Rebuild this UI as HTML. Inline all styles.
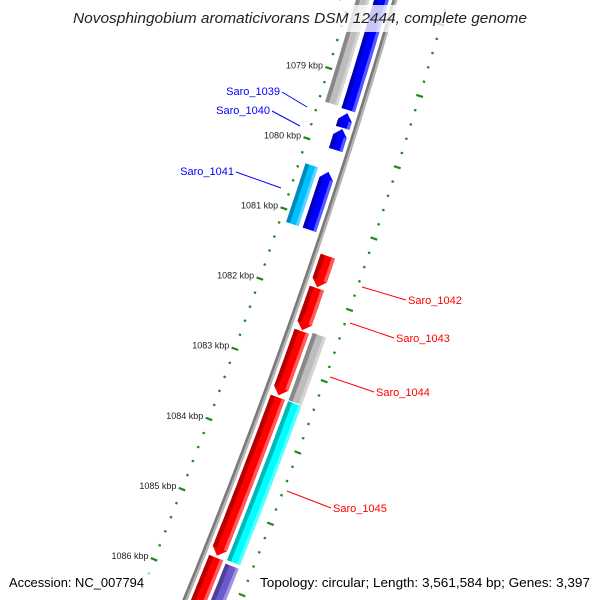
<!DOCTYPE html>
<html><head><meta charset="utf-8"><style>
html,body{margin:0;padding:0;background:#fff;width:600px;height:600px;overflow:hidden}
svg{display:block;overflow:hidden}
text{font-family:"Liberation Sans","DejaVu Sans",sans-serif}
</style></head><body>
<svg id="map" width="600" height="600" viewBox="0 0 600 600" xmlns="http://www.w3.org/2000/svg">
<g id="rulers"></g>
<g id="backbone"></g>
<g id="features"></g>
<g id="labels"></g>
<rect x="68" y="5" width="464" height="27" fill="#fff" fill-opacity="0.78"/>
<text x="300" y="23" text-anchor="middle" font-size="15" font-style="italic" fill="#222" textLength="454" lengthAdjust="spacingAndGlyphs">Novosphingobium aromaticivorans DSM 12444, complete genome</text>
<rect x="4" y="572" width="145" height="20" fill="#fff" fill-opacity="0.78"/>
<text x="9" y="587" font-size="13" fill="#000" textLength="135" lengthAdjust="spacingAndGlyphs">Accession: NC_007794</text>
<rect x="256" y="572" width="340" height="20" fill="#fff" fill-opacity="0.78"/>
<text x="590" y="587" font-size="13" fill="#000" text-anchor="end" textLength="330" lengthAdjust="spacingAndGlyphs">Topology: circular; Length: 3,561,584 bp; Genes: 3,397</text>
</svg>
<script>
// ---- data ----
const featureNames  = ["gray-top","Saro_1039","Saro_1040a","Saro_1040b","Saro_1041-outer","Saro_1041","Saro_1042","Saro_1043","Saro_1044","gray-right","Saro_1045","cyan-right","red-bottom","purple-bottom"];
const featureStarts = [1077500,1077500,1079509,1079735,1080329,1080343,1081418,1081870,1082478,1082450,1083411,1083411,1085674,1085700];
const featureEnds   = [1079452,1079467,1079721,1080032,1081163,1081163,1081856,1082464,1083383,1083397,1085646,1085650,1087500,1087500];
const featureTracks = [-2,-1,-1,-1,-2,-1,1,1,1,2,1,2,1,2];
const featureArrows = [0,0,-1,-1,0,-1,1,1,1,0,1,0,0,0];
const featureColors = ["#bdbdbd","#0000ff","#0000ff","#0000ff","#00bfff","#0000ff","#ff0000","#ff0000","#ff0000","#bdbdbd","#ff0000","#00ffff","#ff0000","#6a5acd"];
const tickStart = 1077800, tickEnd = 1087600, minorStep = 200, majorStep = 1000;
const labelTexts = ["Saro_1039","Saro_1040","Saro_1041","Saro_1042","Saro_1043","Saro_1044","Saro_1045"];

// ---- geometry ----
const NS="http://www.w3.org/2000/svg";
function yScale(bp){return 81+(bp-1079000)*0.0707;}
function bx(y){return 395-0.29*y-0.0001*y*y;}
function bd(y){return -0.29-0.0002*y;}
function pt(y,d){const s=bd(y),n=Math.sqrt(1+s*s);return [bx(y)+d/n, y-d*s/n];}
function mk(tag,attrs,parent){const e=document.createElementNS(NS,tag);for(const k in attrs)e.setAttribute(k,attrs[k]);parent.appendChild(e);return e;}
const trackOffset={"-2":-31,"-1":-13,"1":13,"2":31};
const trackWidth={"-2":13,"-1":14,"1":15,"2":14};

// backbone
const bb=document.getElementById('backbone');
let p1=[],p2=[];
for(let y=-10;y<=620;y+=5){p1.push(pt(y,0).map(v=>v.toFixed(1)).join(','));p2.push(pt(y,-1.2).map(v=>v.toFixed(1)).join(','));}
let e=mk('polyline',{points:p1.join(' '),fill:'none',stroke:'#b4b4b4','stroke-width':5},bb);


e=mk('polyline',{points:p2.join(' '),fill:'none',stroke:'#7a7a7a','stroke-width':2.5},bb);



// rulers
const rg=document.getElementById('rulers');
[-44,51].forEach(function(d,side){
  for(let bp=tickStart;bp<=tickEnd;bp+=minorStep){
    const y=yScale(bp);const major=(bp%majorStep===0);
    const a=pt(y,d-(major?3.5:1.2)),b=pt(y,d+(major?3.5:1.2));
    const t=mk('line',{x1:a[0],y1:a[1],x2:b[0],y2:b[1],stroke:'#1a8a1a','stroke-width':2.2},rg);
    
    
    if(major&&side===0){
      const c=pt(y,d-6);
      const l=mk('text',{x:c[0].toFixed(1),y:(c[1]+2).toFixed(1),'font-size':9,fill:'#222','text-anchor':'end'},rg);
      l.textContent=(bp/1000)+' kbp';
      
      
    }
  }
});

// features
const fg=document.getElementById('features');
function shade(c,f){const r=parseInt(c.substr(1,2),16),g=parseInt(c.substr(3,2),16),b=parseInt(c.substr(5,2),16);
  const m=v=>Math.max(0,Math.min(255,Math.round(f<1?v*f:v+(255-v)*(f-1))));return 'rgb('+m(r)+','+m(g)+','+m(b)+')';}
function band(y1,y2,da,db){const pts=[];for(let y=y1;y<=y2+0.01;y+=Math.max(0.5,(y2-y1)/30))pts.push(pt(y,db));
  for(let y=y2;y>=y1-0.01;y-=Math.max(0.5,(y2-y1)/30))pts.push(pt(y,da));return pts;}
function ps(pts){return pts.map(p=>p[0].toFixed(1)+','+p[1].toFixed(1)).join(' ');}
for(let i=0;i<featureNames.length;i++){
  const y1=yScale(featureStarts[i]),y2=yScale(featureEnds[i]);
  const d0=trackOffset[featureTracks[i]],w=trackWidth[featureTracks[i]];
  const da=d0-w/2,db=d0+w/2,head=7;
  let by1=y1,by2=y2,pts;
  const g=mk('g',{},fg);
  
  
  if(featureArrows[i]===-1){by1=y1+head;pts=[pt(y1,d0)].concat(band(by1,y2,da,db));}
  else if(featureArrows[i]===1){by2=y2-head;const b=band(y1,by2,da,db);pts=b.slice(0,b.length/2).concat([pt(y2,d0)]).concat(b.slice(b.length/2));}
  else pts=band(y1,y2,da,db);
  mk('polygon',{points:ps(pts),fill:featureColors[i]},g);
  mk('polygon',{points:ps(band(by1,by2,da,da+w*0.3)),fill:shade(featureColors[i],0.72)},g);
  mk('polygon',{points:ps(band(by1,by2,db-w*0.22,db)),fill:shade(featureColors[i],1.35)},g);
}

// labels
const labelX=[280,270,234,408,396,376,333];
const labelY=[91,110,171,300,338,392,508];
const lineEnd=[[307,107],[300,126],[281,188],[362,287],[350,323],[330,377],[287,491]];
const lg=document.getElementById('labels');
for(let i=0;i<labelTexts.length;i++){
  const right=i>=3,col=right?'#ff0000':'#0000ff';
  const sx=right?labelX[i]-2:labelX[i]+2,sy=labelY[i]+(right?0:1);
  const ln=mk('line',{x1:sx,y1:sy,x2:lineEnd[i][0],y2:lineEnd[i][1],stroke:col,'stroke-width':1},lg);
  
  
  const t=mk('text',{x:labelX[i],y:labelY[i]+4,'font-size':11,fill:col,'text-anchor':right?'start':'end'},lg);
  t.textContent=labelTexts[i];
  
  
}
</script>
</body></html>
